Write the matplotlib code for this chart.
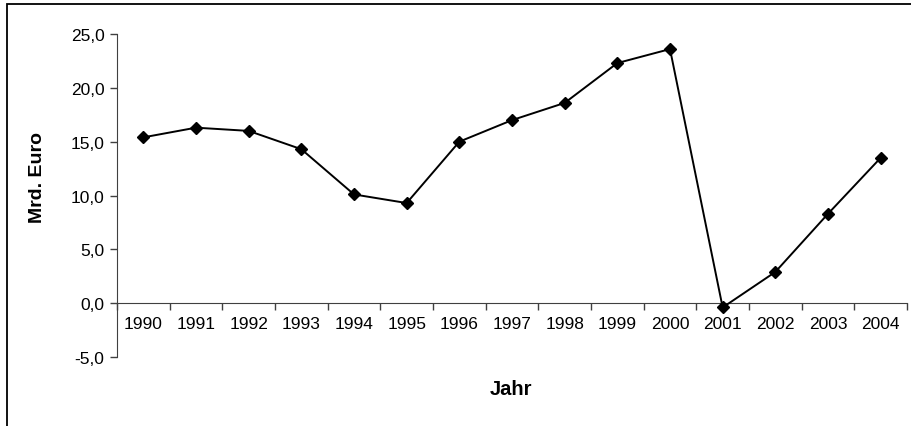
import matplotlib
matplotlib.use("Agg")
import matplotlib.pyplot as plt
from matplotlib.patches import Rectangle
from matplotlib.ticker import FuncFormatter, FixedLocator

plt.rcParams['font.family'] = ['Liberation Sans', 'DejaVu Sans']

years = ['1990', '1991', '1992', '1993', '1994', '1995', '1996', '1997',
         '1998', '1999', '2000', '2001', '2002', '2003', '2004']
values = [15.4, 16.3, 16.0, 14.3, 10.1, 9.3, 15.0, 17.0,
          18.6, 22.3, 23.6, -0.4, 2.9, 8.3, 13.5]
y_ticks = [-5, 0, 5, 10, 15, 20, 25]

W, H = 911, 427
fig = plt.figure(figsize=(W / 100, H / 100), dpi=100)

# outer chart frame
fig.patches.append(Rectangle((7 / W, -0.1), 1.2, 1.1 - 5 / H,
                             transform=fig.transFigure, fill=False,
                             edgecolor='black', linewidth=1.3))

ax = fig.add_axes([117 / W, 1 - 358 / H, (907 - 117) / W, (358 - 35) / H])
x = list(range(len(years)))
ax.plot(x, values, color='black', linewidth=1.4, marker='D', markersize=6.5,
        markerfacecolor='black', markeredgecolor='black', clip_on=False, zorder=3)

ax.set_xlim(-0.5, len(years) - 0.5)
ax.set_ylim(-5, 25)
ax.yaxis.set_major_locator(FixedLocator(y_ticks))
ax.yaxis.set_major_formatter(FuncFormatter(lambda v, p: f"{v:.1f}".replace('.', ',')))

ax.set_xticks([i - 0.5 for i in range(len(years) + 1)])
ax.set_xticklabels([])
ax.set_xticks(x, minor=True)
ax.set_xticklabels(years, minor=True)
ax.tick_params(axis='x', which='minor', length=0, pad=9, labelsize=12.5)
ax.tick_params(axis='x', which='major', length=5, width=1, color='#404040')
ax.tick_params(axis='y', length=5, width=1, color='#404040', labelsize=12.5, pad=4)

for s in ['top', 'right']:
    ax.spines[s].set_visible(False)
ax.spines['bottom'].set_position(('data', 0))
ax.spines['bottom'].set_color('#404040')
ax.spines['left'].set_color('#404040')

fig.text(37 / W, 1 - 178 / H, 'Mrd. Euro', fontsize=14, fontweight='bold',
         rotation=90, ha='center', va='center')
fig.text(511 / W, 1 - 390 / H, 'Jahr', fontsize=14.5, fontweight='bold',
         ha='center', va='center')

fig.savefig('out.png', dpi=100)
